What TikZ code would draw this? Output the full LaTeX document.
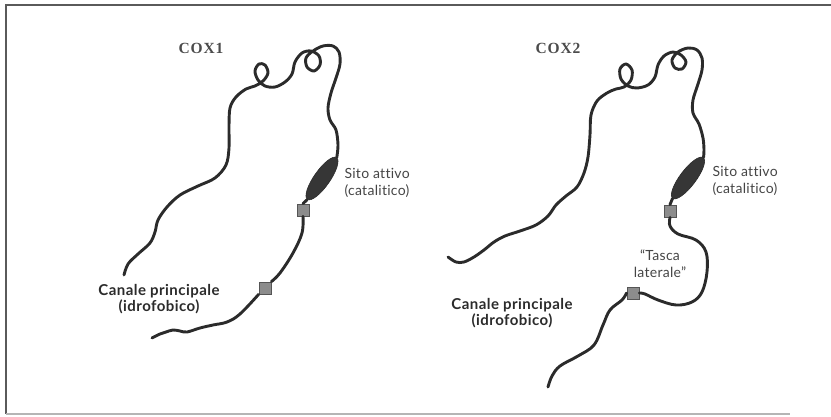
\documentclass[tikz,border=0pt]{standalone}
\usepackage{fontspec}
\setmainfont{Liberation Serif}
\setsansfont[Ligatures=NoCommon]{Lato}
\usetikzlibrary{shapes.geometric}
\definecolor{ink}{HTML}{2B2B2B}
\definecolor{textgray}{HTML}{454545}
\definecolor{boxgray}{HTML}{8C8C8C}
\definecolor{framegray}{HTML}{5A5A5A}
\begin{document}
\begin{tikzpicture}[x=1pt,y=-1pt,
  strand/.style={draw=ink, line width=2.9pt, line cap=round, line join=round},
  site/.style={ellipse, fill=ink!95, draw=ink, line width=0.6pt, inner sep=0pt, minimum width=51pt, minimum height=16pt},
  marker/.style={rectangle, fill=boxgray, draw=ink!80, line width=0.8pt, minimum size=12pt, inner sep=0pt},
  title/.style={font=\fontsize{15.5}{17}\selectfont\bfseries\addfontfeatures{LetterSpace=6}, text=ink!85},
  note/.style={font=\sffamily\fontsize{14}{17}\selectfont\addfontfeatures{LetterSpace=2}, text=textgray, align=left},
  channel/.style={font=\sffamily\bfseries\fontsize{15}{15.5}\selectfont\addfontfeatures{LetterSpace=3}, text=ink, align=center}]
\useasboundingbox (0,0) rectangle (831,417);
% frame
\draw[framegray, line width=2.2pt] (831,5) -- (6,5) -- (6,414);
\draw[framegray!45, line width=1.6pt] (6,414) -- (790,414);

% ---------------- COX1 ----------------
\node[title] (t1) at (201,48) {COX1};
\node[site, rotate=55] (e1) at (322,178.5) {};
\node[marker] (a1) at (303,210) {};
\node[marker] (b1) at (265,288) {};
\path[strand] plot[smooth, tension=0.55] coordinates {
  (124,275) (128,264) (138,254) (150,243) (155,232) (158,220) (167,207)
  (180,195) (198,186) (215,178) (226,165) (229,148) (229,127) (230,108)
  (236,97) (246,89) (255,86) (263,81) (268,73) (265,65) (259,64) (255,71)
  (258,80) (265,86) (275,87) (285,82) (292,74) (295,62) (302,53) (311,51)
  (319,56) (320,65) (314,71) (307,67) (306,58) (313,51) (323,46) (333,46)
  (339,52) (340,64) (336,78) (331,93) (328,108) (330,120) (336,130)
  (338,145) (e1.east)};
\draw[strand] (e1.west) -- (a1.north);
\path[strand] plot[smooth, tension=0.6] coordinates {
  (a1.south) (302,233) (293,253) (280,273) (b1.north east)};
\path[strand] plot[smooth, tension=0.6] coordinates {
  (b1.south west) (240,314) (227,322) (213,325) (200,328) (187,332)
  (180,331) (173,330) (166,332) (160,334) (152,338)};
\node[note, anchor=west] (n1) at (341,183) {Sito attivo\\(catalitico)};
\node[channel] (c1) at (159,299) {Canale principale\\(idrofobico)};

% ---------------- COX2 ----------------
\node[title] (t2) at (558,48) {COX2};
\node[site, rotate=53] (e2) at (688,178) {};
\node[marker] (a2) at (670,211) {};
\node[marker] (b2) at (633,293) {};
\path[strand] plot[smooth, tension=0.55] coordinates {
  (448,257) (456,262) (464,262) (474,257) (484,250) (494,242) (505,236)
  (520,231) (536,225) (548,216) (556,205) (566,196) (577,187) (584,173)
  (588,157) (590,135) (591,115) (597,101) (607,93) (616,89) (624,87)
  (631,80) (632,70) (626,64) (620,69) (621,79) (628,86) (637,88) (648,85)
  (655,77) (658,65) (664,56) (673,52) (681,55) (686,62) (682,69) (675,68)
  (672,60) (678,52) (688,48) (697,50) (702,58) (702,70) (698,84) (693,100)
  (693,113) (699,124) (703,138) (704,150) (e2.east)};
\draw[strand] (e2.west) -- (a2.north);
\path[strand] plot[smooth, tension=0.6] coordinates {
  (a2.south) (670,226) (678,234) (696,240) (706,252) (707,272) (702,292)
  (692,302) (676,305) (658,300) (645,294) (b2.east)};
\path[strand] plot[smooth, tension=0.6] coordinates {
  (b2.west) (622,300) (610,310) (603,325) (594,345) (578,356) (560,366)
  (552,376) (548,387)};
\node[note, anchor=west] (n2) at (709,181) {Sito attivo\\(catalitico)};
\node[note, align=center] (p2) at (660,264) {“Tasca\\laterale”};
\node[channel] (c2) at (512,313) {Canale principale\\(idrofobico)};
\end{tikzpicture}
\end{document}
